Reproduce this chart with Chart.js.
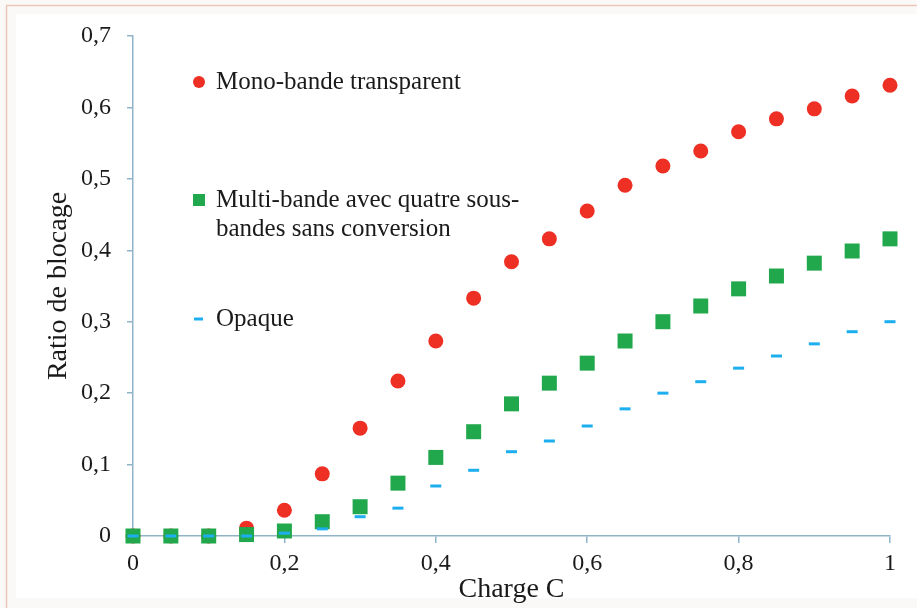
<!DOCTYPE html>
<html>
<head>
<meta charset="utf-8">
<script src="https://cdn.jsdelivr.net/npm/chart.js@4.4.0/dist/chart.umd.min.js"></script>
<style>
	body { margin: 0; background: #ffffff; }
	#chart { display: block; }
</style>
</head>
<body>
<canvas id="chart" width="917" height="608"></canvas>
<script>
// data
let charge = [0, 0.05, 0.1, 0.15, 0.2, 0.25, 0.3, 0.35, 0.4, 0.45, 0.5, 0.55, 0.6, 0.65, 0.7, 0.75, 0.8, 0.85, 0.9, 0.95, 1];
let monoBande = [0, 0, 0, 0.011, 0.036, 0.087, 0.151, 0.217, 0.273, 0.333, 0.384, 0.416, 0.455, 0.491, 0.518, 0.539, 0.566, 0.584, 0.598, 0.616, 0.631];
let multiBande = [0, 0, 0, 0.002, 0.007, 0.02, 0.041, 0.074, 0.11, 0.146, 0.185, 0.214, 0.242, 0.273, 0.30, 0.322, 0.346, 0.364, 0.382, 0.399, 0.416];
let opaque = [0, 0, 0, 0, 0.004, 0.01, 0.027, 0.039, 0.07, 0.092, 0.118, 0.133, 0.154, 0.178, 0.2, 0.216, 0.235, 0.252, 0.269, 0.286, 0.30];

let legendLines = [
	["Mono-bande transparent"],
	["Multi-bande avec quatre sous-", "bandes sans conversion"],
	["Opaque"]
];
let xTitle = "Charge C";
let yTitle = "Ratio de blocage";

let axisColor = "#8fb3c8";
let textColor = "#1a1a1a";
let serif = "'Liberation Serif', 'Times New Roman', serif";


function toPoints(values) {
	return values.map((v, i) => ({ x: charge[i], y: v }));
}

function commaLabel(value) {
	return Number(value.toFixed(1)).toString().replace(".", ",");
}


// frame around the picture + legend drawn inside the plot
let framePlugin = {
	id: "frame",
	beforeDraw(chart) {
		let ctx = chart.ctx;
		ctx.save();
		ctx.fillStyle = "#fbf9f8";
		ctx.fillRect(0, 0, chart.width, chart.height);
		ctx.fillStyle = "#ffffff";
		ctx.fillRect(16, 14, chart.width - 16, chart.height - 24);
		ctx.strokeStyle = "#ecc6b6";
		ctx.lineWidth = 1.5;
		ctx.strokeRect(6.5, 5.5, chart.width + 10, chart.height - 3);
		ctx.restore();
	}
};

let insideLegend = {
	id: "insideLegend",
	afterDraw(chart) {
		let ctx = chart.ctx;
		let left = chart.chartArea.left + 66;
		let rows = [82, 200, 319];
		ctx.save();
		ctx.font = "25px " + serif;
		ctx.fillStyle = textColor;
		ctx.textBaseline = "middle";
		chart.data.datasets.forEach((ds, i) => {
			let y = rows[i];
			ctx.fillStyle = ds.backgroundColor;
			ctx.strokeStyle = ds.borderColor;
			if (ds.pointStyle == "circle") {
				ctx.beginPath();
				ctx.arc(left, y, 6, 0, Math.PI * 2);
				ctx.fill();
			} else if (ds.pointStyle == "rect") {
				ctx.fillRect(left - 6, y - 6, 12, 12);
			} else {
				ctx.lineWidth = 3;
				ctx.beginPath();
				ctx.moveTo(left - 5, y);
				ctx.lineTo(left + 4, y);
				ctx.stroke();
			}
			ctx.fillStyle = textColor;
			legendLines[i].forEach((line, j) => {
				ctx.fillText(line, left + 17, y + j * 29);
			});
		});
		ctx.restore();
	}
};


let chart = new Chart(document.getElementById("chart"), {
	type: "scatter",
	data: {
		datasets: [{
			label: legendLines[0].join(" "),
			data: toPoints(monoBande),
			pointStyle: "circle",
			pointRadius: 7.5,
			backgroundColor: "#ee2f24",
			borderColor: "#ee2f24",
			borderWidth: 0,
			clip: false,
			order: 2
		}, {
			label: legendLines[1].join(""),
			data: toPoints(multiBande),
			pointStyle: "rect",
			pointRadius: 10.6,
			backgroundColor: "#21a84c",
			borderColor: "#21a84c",
			borderWidth: 0,
			clip: false,
			order: 1
		}, {
			label: legendLines[2].join(" "),
			data: toPoints(opaque),
			pointStyle: "line",
			pointRadius: 5.5,
			backgroundColor: "#1caeef",
			borderColor: "#1caeef",
			borderWidth: 3,
			clip: false,
			order: 0
		}]
	},
	options: {
		responsive: false,
		animation: false,
		layout: {
			padding: { left: 0, right: 27, top: 36, bottom: 0 }
		},
		plugins: {
			legend: { display: false },
			tooltip: { enabled: false }
		},
		scales: {
			x: {
				type: "linear",
				min: 0,
				max: 1,
				afterFit: (scale) => { scale.height = 72; },
				ticks: {
					stepSize: 0.2,
					padding: 6,
					color: textColor,
					font: { family: serif, size: 24 },
					callback: (v) => commaLabel(v)
				},
				grid: { drawOnChartArea: false, drawTicks: true, tickLength: 7, color: axisColor, lineWidth: 1.5 },
				border: { display: true, color: axisColor, width: 1.5 },
				title: {
					display: true,
					text: xTitle,
					color: textColor,
					font: { family: serif, size: 28 },
					padding: { top: 0, bottom: 2 }
				}
			},
			y: {
				type: "linear",
				min: 0,
				max: 0.7,
				afterFit: (scale) => { scale.width = 133; },
				ticks: {
					stepSize: 0.1,
					padding: 16,
					color: textColor,
					font: { family: serif, size: 24 },
					callback: (v) => commaLabel(v)
				},
				grid: { drawOnChartArea: false, drawTicks: true, tickLength: 6, color: axisColor, lineWidth: 1.5 },
				border: { display: true, color: axisColor, width: 1.5 },
				title: {
					display: true,
					text: yTitle,
					color: textColor,
					font: { family: serif, size: 28 },
					padding: { top: 42, bottom: 0 }
				}
			}
		}
	},
	plugins: [framePlugin, insideLegend]
});
</script>
</body>
</html>
